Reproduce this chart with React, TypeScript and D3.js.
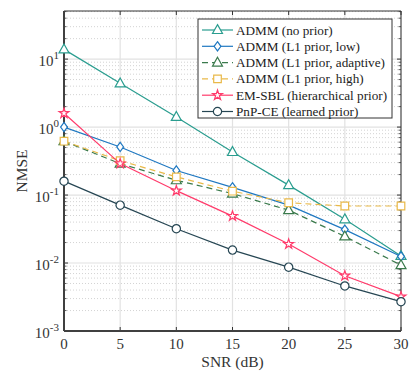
import React from "react";
import * as d3 from "d3";

const snr = [0, 5, 10, 15, 20, 25, 30];
const admmNoPrior = [13.9, 4.4, 1.41, 0.43, 0.14, 0.044, 0.0127];
const admmLow = [1.0, 0.51, 0.23, 0.13, 0.071, 0.031, 0.0125];
const admmAdaptive = [0.62, 0.29, 0.165, 0.105, 0.06, 0.0246, 0.0093];
const admmHigh = [0.62, 0.32, 0.185, 0.114, 0.077, 0.069, 0.069];
const emSbl = [1.6, 0.29, 0.116, 0.049, 0.019, 0.0065, 0.0032];
const pnpCe = [0.16, 0.071, 0.032, 0.0155, 0.0087, 0.0046, 0.0027];

const seriesNames = [
  "ADMM (no prior)",
  "ADMM (L1 prior, low)",
  "ADMM (L1 prior, adaptive)",
  "ADMM (L1 prior, high)",
  "EM-SBL (hierarchical prior)",
  "PnP-CE (learned prior)",
];
const seriesValues = [admmNoPrior, admmLow, admmAdaptive, admmHigh, emSbl, pnpCe];
const seriesColors = ["#2a9d8f", "#1f78c1", "#3a7a4c", "#e9b949", "#ff3b6b", "#264653"];
const seriesDash = [null, null, "6,4", "6,4", null, null];
const seriesMarker = ["triangle", "diamond", "triangle", "square", "star", "circle"];

const xTicks = [0, 5, 10, 15, 20, 25, 30];
const yDecades = [-3, -2, -1, 0, 1];

const W = 409, H = 371;
const L = 64, R = 401, T = 11, B = 331;
const FONT = "Liberation Serif, Times New Roman, Times, serif";

function markerPath(type: string): string {
  if (type === "triangle") return "M0,-5.4L5,3.5L-5,3.5Z";
  if (type === "diamond") return "M0,-4.6L3.4,0L0,4.6L-3.4,0Z";
  if (type === "square") return "M-3.8,-3.8H3.8V3.8H-3.8Z";
  if (type === "star") return d3.symbol(d3.symbolStar, 30)()!;
  return d3.symbol(d3.symbolCircle, 54)()!;
}

export default function App() {
  const x = d3.scaleLinear().domain([0, 30]).range([L, R]);
  const y = d3.scaleLog().domain([1e-3, 51]).range([B, T]);
  const line = d3
    .line<number>()
    .x((_, i) => x(snr[i]))
    .y((v) => y(v));

  const minor: number[] = [];
  for (let e = -3; e <= 1; e++) {
    for (let m = 2; m <= 9; m++) {
      const v = m * Math.pow(10, e);
      if (v < 51) minor.push(v);
    }
  }

  const legX = 198, legY = 19, legW = 194, legH = 99;
  const rowH = 16.3;

  return (
    <svg width={W} height={H} style={{ position: "absolute", left: 0, top: 0, background: "#fff" }}>
      <rect x={0} y={0} width={W} height={H} fill="#fff" />
      {minor.map((v, i) => (
        <line key={"mg" + i} x1={L} x2={R} y1={y(v)} y2={y(v)} stroke="#c8c8c8" strokeWidth={0.8} strokeDasharray="1,2" />
      ))}
      {yDecades.map((e) => (
        <line key={"yg" + e} x1={L} x2={R} y1={y(Math.pow(10, e))} y2={y(Math.pow(10, e))} stroke="#e2e2e2" strokeWidth={1.2} />
      ))}
      {xTicks.map((t) => (
        <line key={"xg" + t} x1={x(t)} x2={x(t)} y1={T} y2={B} stroke="#e2e2e2" strokeWidth={1.2} />
      ))}
      {xTicks.map((t) => (
        <g key={"xt" + t}>
          <line x1={x(t)} x2={x(t)} y1={B} y2={B - 4} stroke="#333" />
          <line x1={x(t)} x2={x(t)} y1={T} y2={T + 4} stroke="#333" />
          <text x={x(t)} y={B + 18} textAnchor="middle" fontFamily={FONT} fontSize={15} fill="#333">
            {t}
          </text>
        </g>
      ))}
      {yDecades.map((e) => (
        <g key={"yt" + e}>
          <line x1={L} x2={L + 4} y1={y(Math.pow(10, e))} y2={y(Math.pow(10, e))} stroke="#333" />
          <line x1={R} x2={R - 4} y1={y(Math.pow(10, e))} y2={y(Math.pow(10, e))} stroke="#333" />
          <text x={L - 5} y={y(Math.pow(10, e)) + 6.5} textAnchor="end" fontFamily={FONT} fontSize={15} fill="#333">
            10<tspan dy={-7} fontSize={11}>{e}</tspan>
          </text>
        </g>
      ))}
      {minor.map((v, i) => (
        <g key={"mt" + i}>
          <line x1={L} x2={L + 2.5} y1={y(v)} y2={y(v)} stroke="#333" strokeWidth={0.8} />
          <line x1={R} x2={R - 2.5} y1={y(v)} y2={y(v)} stroke="#333" strokeWidth={0.8} />
        </g>
      ))}
      <line x1={L} x2={R} y1={T} y2={T} stroke="#333" strokeWidth={1} />
      <line x1={R} x2={R} y1={T} y2={B} stroke="#333" strokeWidth={1} />
      <line x1={L} x2={L} y1={T} y2={B} stroke="#404040" strokeWidth={2} />
      <line x1={L} x2={R} y1={B} y2={B} stroke="#404040" strokeWidth={2} />
      {seriesValues.map((vals, si) => (
        <g key={"s" + si}>
          <path d={line(vals)!} fill="none" stroke={seriesColors[si]} strokeWidth={1.2} strokeDasharray={seriesDash[si] || undefined} />
          {vals.map((v, i) => (
            <path
              key={i}
              d={markerPath(seriesMarker[si])}
              transform={`translate(${x(snr[i])},${y(v)})`}
              fill="#fff"
              stroke={seriesColors[si]}
              strokeWidth={1.2}
            />
          ))}
        </g>
      ))}
      <rect x={legX} y={legY} width={legW} height={legH} fill="#fff" stroke="#333" strokeWidth={1} />
      {seriesNames.map((name, i) => {
        const cy = legY + 11 + i * rowH;
        return (
          <g key={"lg" + i}>
            <line x1={legX + 4} x2={legX + 35} y1={cy} y2={cy} stroke={seriesColors[i]} strokeWidth={1.2} strokeDasharray={seriesDash[i] || undefined} />
            <path d={markerPath(seriesMarker[i])} transform={`translate(${legX + 19.5},${cy})`} fill="#fff" stroke={seriesColors[i]} strokeWidth={1.2} />
            <text x={legX + 38} y={cy + 4.5} fontFamily={FONT} fontSize={13.2} fill="#222">
              {name}
            </text>
          </g>
        );
      })}
      <text x={(L + R) / 2} y={B + 36} textAnchor="middle" fontFamily={FONT} fontSize={15.5} fill="#333">
        SNR (dB)
      </text>
      <text transform={`translate(${27},${(T + B) / 2}) rotate(-90)`} textAnchor="middle" fontFamily={FONT} fontSize={15.5} fill="#333">
        NMSE
      </text>
    </svg>
  );
}
